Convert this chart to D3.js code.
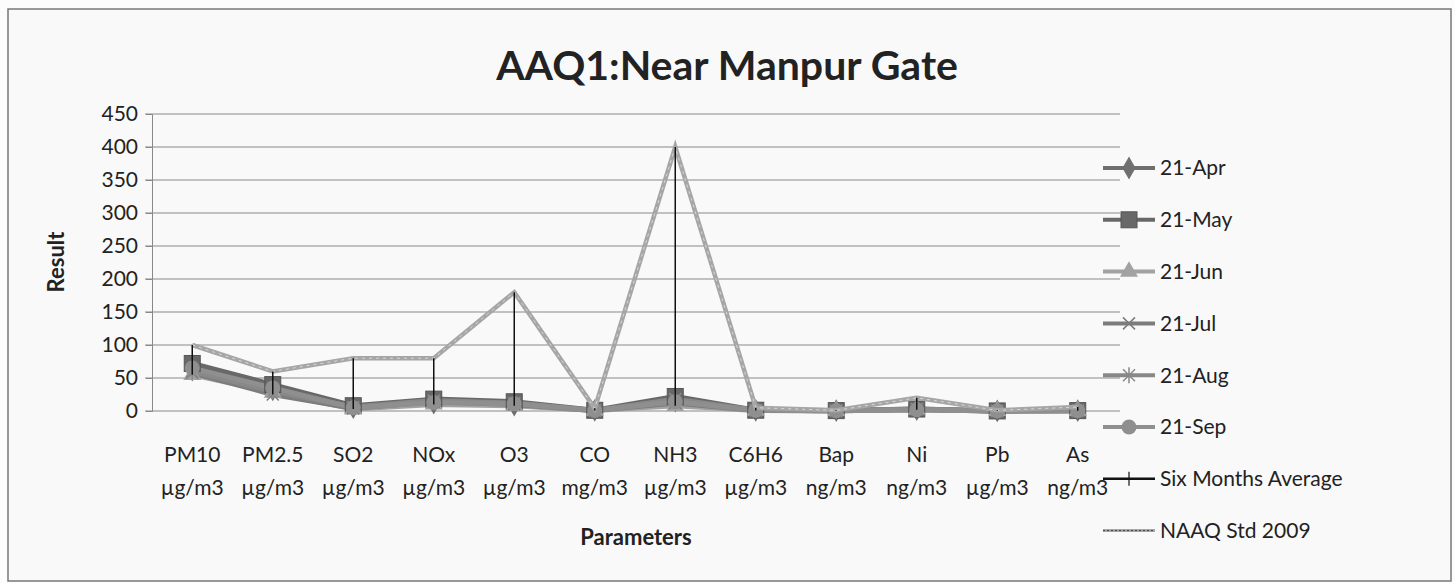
<!DOCTYPE html>
<html>
<head>
<meta charset="utf-8">
<script src="https://cdn.jsdelivr.net/npm/d3@7"></script>
<style>
  body { margin: 0; background: #ffffff; }
  text { font-family: Lato, "Open Sans", sans-serif; fill: #222; }
</style>
</head>
<body>
<script>
// categories (two line labels)
var params = ["PM10", "PM2.5", "SO2", "NOx", "O3", "CO", "NH3", "C6H6", "Bap", "Ni", "Pb", "As"];
var units = ["µg/m3", "µg/m3", "µg/m3", "µg/m3", "µg/m3", "mg/m3", "µg/m3", "µg/m3", "ng/m3", "ng/m3", "µg/m3", "ng/m3"];

// monthly results
var apr = [62, 32, 5, 12, 9, 0.8, 15, 1, 0.5, 2, 0.1, 0.5];
var may = [72, 40, 8, 18, 14, 1.1, 22, 1.2, 0.6, 3, 0.1, 0.6];
var jun = [55, 28, 3, 10, 8, 0.6, 8, 0.8, 0.4, 2, 0.1, 0.4];
var jul = [58, 25, 4, 14, 10, 0.7, 12, 0.9, 0.5, 2.5, 0.1, 0.5];
var aug = [60, 30, 6, 16, 12, 0.9, 18, 1.1, 0.5, 3, 0.1, 0.6];
var sep = [65, 35, 5, 13, 11, 0.8, 14, 1, 0.5, 2, 0.1, 0.5];
var avg = [62, 32, 5, 14, 11, 0.8, 15, 1, 0.5, 2.4, 0.1, 0.5];
var naaq = [100, 60, 80, 80, 180, 4, 400, 5, 1, 20, 1, 6];

var yTicks = [0, 50, 100, 150, 200, 250, 300, 350, 400, 450];

var series = [
  { name: "21-Apr", values: apr, color: "#6f6f6f", marker: "diamond" },
  { name: "21-May", values: may, color: "#686868", marker: "square" },
  { name: "21-Jun", values: jun, color: "#a2a2a2", marker: "triangle" },
  { name: "21-Jul", values: jul, color: "#7c7c7c", marker: "x" },
  { name: "21-Aug", values: aug, color: "#888888", marker: "star" },
  { name: "21-Sep", values: sep, color: "#8f8f8f", marker: "circle" }
];

var svg = d3.select("body").append("svg").attr("width", 1455).attr("height", 583);

svg.append("rect").attr("x", 0).attr("y", 0).attr("width", 1455).attr("height", 583).attr("fill", "#fcfcfc");
svg.append("rect")
    .attr("x", 8).attr("y", 9).attr("width", 1443).attr("height", 572)
    .attr("fill", "#f9f9f9").attr("stroke", "#777").attr("stroke-width", 1.5);

var x = d3.scaleBand().domain(params).range([152, 1118]);
var y = d3.scaleLinear().domain([0, 450]).range([411, 114]);
var cx = function (i) { return x(params[i]) + x.bandwidth() / 2; };

// gridlines
svg.append("g").selectAll("line").data(yTicks).enter().append("line")
    .attr("x1", 145).attr("x2", 1120)
    .attr("y1", function (d) { return y(d); }).attr("y2", function (d) { return y(d); })
    .attr("stroke", "#8a8a8a").attr("stroke-width", 1.2);

// y axis
var yAxis = svg.append("g").attr("transform", "translate(152,0)")
    .call(d3.axisLeft(y).tickValues(yTicks).tickSize(6).tickPadding(8));
yAxis.select(".domain").attr("stroke", "#888");
yAxis.selectAll(".tick line").attr("stroke", "#888");
yAxis.selectAll("text").style("font-size", "21px").attr("fill", "#222")
    .style("font-family", "Lato, 'Open Sans', sans-serif");

// x labels
var xl = svg.append("g").selectAll("text").data(params).enter().append("text")
    .attr("text-anchor", "middle")
    .attr("x", function (d) { return x(d) + x.bandwidth() / 2; })
    .style("font-size", "21px");
xl.append("tspan").attr("x", function (d) { return x(d) + x.bandwidth() / 2; }).attr("y", 462).text(function (d) { return d; });
xl.append("tspan").attr("x", function (d) { return x(d) + x.bandwidth() / 2; }).attr("y", 495).text(function (d, i) { return units[i]; });

// titles
svg.append("text").attr("x", 727).attr("y", 80).attr("text-anchor", "middle")
    .style("font-size", "41px").style("font-weight", "bold").attr("fill", "#333")
    .text("AAQ1:Near Manpur Gate");
svg.append("text").attr("transform", "translate(64,262) rotate(-90)").attr("text-anchor", "middle")
    .style("font-size", "22px").style("font-weight", "bold").text("Result");
svg.append("text").attr("x", 636).attr("y", 545).attr("text-anchor", "middle")
    .style("font-size", "22px").style("font-weight", "bold").text("Parameters");

var line = d3.line()
    .x(function (d, i) { return cx(i); })
    .y(function (d) { return y(d); });

function drawMarker(g, type, color, px, py) {
    if (type === "diamond") {
        g.append("path").attr("d", d3.symbol(d3.symbolDiamond, 150)())
            .attr("transform", "translate(" + px + "," + py + ")").attr("fill", color);
    } else if (type === "square") {
        g.append("rect").attr("x", px - 8).attr("y", py - 8).attr("width", 16).attr("height", 16)
            .attr("fill", color).attr("stroke", "#555").attr("stroke-width", 1);
    } else if (type === "triangle") {
        g.append("path").attr("d", d3.symbol(d3.symbolTriangle, 140)())
            .attr("transform", "translate(" + px + "," + py + ")").attr("fill", color);
    } else if (type === "x" || type === "star") {
        g.append("path").attr("d", "M" + (px - 6) + "," + (py - 6) + "L" + (px + 6) + "," + (py + 6) +
            "M" + (px - 6) + "," + (py + 6) + "L" + (px + 6) + "," + (py - 6) +
            (type === "star" ? "M" + px + "," + (py - 8) + "L" + px + "," + (py + 8) : ""))
            .attr("stroke", color).attr("stroke-width", 1.5).attr("fill", "none");
    } else if (type === "circle") {
        g.append("circle").attr("cx", px).attr("cy", py).attr("r", 7.5).attr("fill", color);
    } else if (type === "plus") {
        g.append("path").attr("d", "M" + (px - 6) + "," + py + "L" + (px + 6) + "," + py +
            "M" + px + "," + (py - 7) + "L" + px + "," + (py + 7))
            .attr("stroke", "#111").attr("stroke-width", 1.2);
    }
}

var plot = svg.append("g");

// six months average (mostly hidden beneath the monthly lines)
plot.append("path").attr("d", line(avg)).attr("fill", "none").attr("stroke", "#222").attr("stroke-width", 1.5);

series.forEach(function (s) {
    plot.append("path").attr("d", line(s.values)).attr("fill", "none")
        .attr("stroke", s.color).attr("stroke-width", 5).attr("stroke-linejoin", "round");
});
series.forEach(function (s) {
    s.values.forEach(function (v, i) { drawMarker(plot, s.marker, s.color, cx(i), y(v)); });
});

// NAAQ standard line
plot.append("path").attr("d", line(naaq)).attr("fill", "none")
    .attr("stroke", "#a6a6a6").attr("stroke-width", 4.5);
plot.append("path").attr("d", line(naaq)).attr("fill", "none")
    .attr("stroke", "#d8d8d8").attr("stroke-width", 1).attr("stroke-dasharray", "3,4");

// high-low lines
var allSeries = [apr, may, jun, jul, aug, sep, avg, naaq];
params.forEach(function (p, i) {
    var vals = allSeries.map(function (s) { return s[i]; });
    plot.append("line").attr("x1", cx(i)).attr("x2", cx(i))
        .attr("y1", y(d3.min(vals))).attr("y2", y(d3.max(vals)))
        .attr("stroke", "#111").attr("stroke-width", 1.5);
});

// legend
var legendItems = series.map(function (s) { return { name: s.name, color: s.color, marker: s.marker, w: 4 }; });
legendItems.push({ name: "Six Months Average", color: "#111", marker: "plus", w: 2.5 });
legendItems.push({ name: "NAAQ Std 2009", color: "#a6a6a6", marker: "naaq", w: 3 });

var leg = svg.append("g");
legendItems.forEach(function (d, i) {
    var ly = 168 + i * 51.8;
    leg.append("line").attr("x1", 1103).attr("x2", 1155).attr("y1", ly).attr("y2", ly)
        .attr("stroke", d.color).attr("stroke-width", d.w);
    if (d.marker === "naaq") {
        leg.append("line").attr("x1", 1103).attr("x2", 1155).attr("y1", ly).attr("y2", ly)
            .attr("stroke", "#444").attr("stroke-width", 1).attr("stroke-dasharray", "2,2");
    } else {
        drawMarker(leg, d.marker, d.color, 1129, ly);
    }
    leg.append("text").attr("x", 1160).attr("y", ly).attr("dy", "0.35em")
        .style("font-size", "21px").text(d.name);
});
</script>
</body>
</html>
